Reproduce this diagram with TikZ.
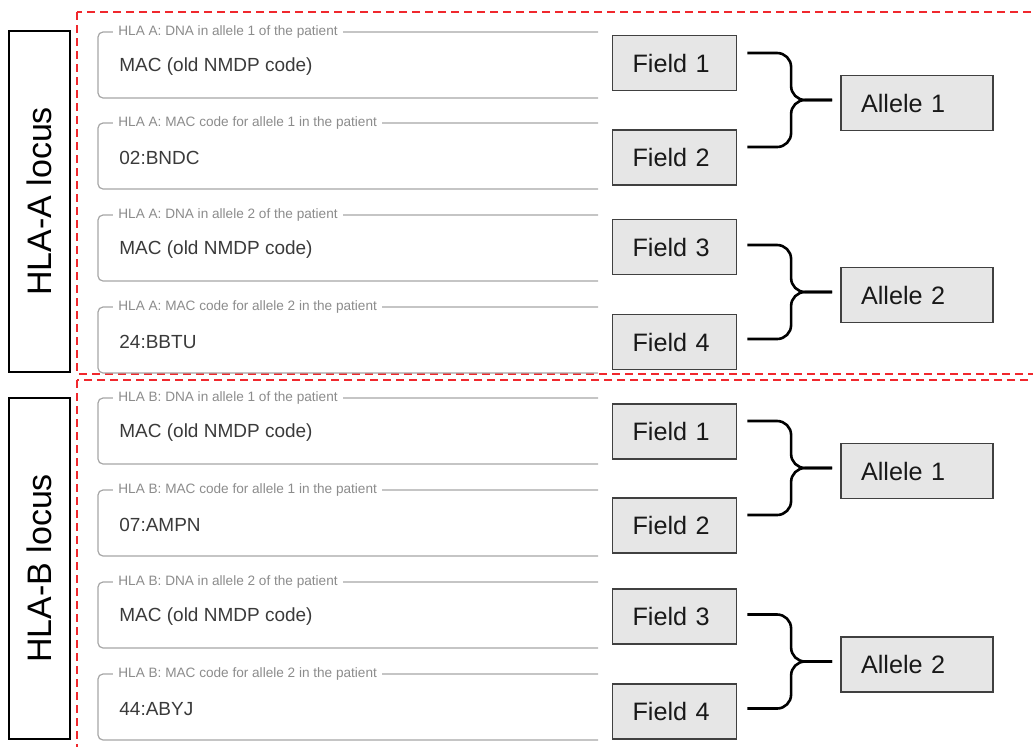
\documentclass[tikz,border=0pt]{standalone}
\usepackage{fontspec}
\setmainfont{Liberation Sans}
\usetikzlibrary{calc}

\definecolor{boxgray}{HTML}{E6E6E6}
\definecolor{boxline}{HTML}{404040}
\definecolor{formline}{HTML}{A6A6A6}
\definecolor{formgray}{HTML}{8C8C8C}
\definecolor{formtext}{HTML}{3A3A3A}
\definecolor{locusred}{HTML}{F0282D}

\begin{document}
\begin{tikzpicture}[x=0.5pt, y=-0.5pt,
	locus/.style={draw, line width=0.7pt, rotate=90, minimum width=170.5pt, minimum height=30.5pt, inner sep=0pt, font=\fontsize{17}{20}\selectfont},
	locusframe/.style={draw=locusred, line width=0.8pt, dash pattern=on 4pt off 2.5pt},
	formbox/.style={draw=formline, line width=0.6pt, rounded corners=2.5pt},
	formlabel/.style={fill=white, text=formgray, inner xsep=2.5pt, inner ysep=1pt, anchor=west, font=\fontsize{6.8}{8}\selectfont},
	formvalue/.style={text=formtext, inner sep=0pt, anchor=west, font=\fontsize{9.5}{11}\selectfont},
	fieldbox/.style={draw=boxline, fill=boxgray, line width=0.9pt, text=black!90, inner xsep=10pt, text width=42pt, align=left, minimum height=27.5pt, font=\fontsize{12.6}{15}\selectfont},
	allelebox/.style={fieldbox, text width=56pt},
	brace/.style={draw, line width=1.3pt, rounded corners=7pt}
]
	\useasboundingbox (0,0) rectangle (1033,746);
	\clip (0,0) rectangle (1033,746);

	% Loci
	\node[locus] (la) at (39.5,201.5) {HLA-A locus};
	\node[locus] (lb) at (39.5,568.5) {HLA-B locus};
	\draw[locusframe] (77,12) rectangle (1050,374);
	\draw[locusframe] (77,380) rectangle (1050,760);

	% Form fields
	\foreach \t/\lab/\val [count=\i] in {
		32/{HLA A: DNA in allele 1 of the patient}/{MAC (old NMDP code)},
		123/{HLA A: MAC code for allele 1 in the patient}/{02:BNDC},
		215/{HLA A: DNA in allele 2 of the patient}/{MAC (old NMDP code)},
		307/{HLA A: MAC code for allele 2 in the patient}/{24:BBTU},
		398/{HLA B: DNA in allele 1 of the patient}/{MAC (old NMDP code)},
		490/{HLA B: MAC code for allele 1 in the patient}/{07:AMPN},
		582/{HLA B: DNA in allele 2 of the patient}/{MAC (old NMDP code)},
		674/{HLA B: MAC code for allele 2 in the patient}/{44:ABYJ}} {
		\draw[formbox] (598,\t) -- (98,\t) -- (98,\t+66) -- (598,\t+66);
		\node[formlabel] (lab\i) at (113,\t) {\lab};
		\node[formvalue] (val\i) at (119,\t+35) {\val};
	}

	% Fields and alleles
	\node[fieldbox] (fa1) at (674.5,63) {Field 1};
	\node[fieldbox] (fa2) at (674.5,157.5) {Field 2};
	\node[fieldbox] (fa3) at (674.5,247) {Field 3};
	\node[fieldbox] (fa4) at (674.5,342) {Field 4};
	\node[fieldbox] (fb1) at (674.5,431.5) {Field 1};
	\node[fieldbox] (fb2) at (674.5,525.5) {Field 2};
	\node[fieldbox] (fb3) at (674.5,616.5) {Field 3};
	\node[fieldbox] (fb4) at (674.5,711.5) {Field 4};

	\node[allelebox] (aa1) at (917,103) {Allele 1};
	\node[allelebox] (aa2) at (917,295) {Allele 2};
	\node[allelebox] (ab1) at (917,471) {Allele 1};
	\node[allelebox] (ab2) at (917,664.5) {Allele 2};

	% Braces
	\foreach \up/\down/\al in {fa1/fa2/aa1, fa3/fa4/aa2, fb1/fb2/ab1, fb3/fb4/ab2} {
		\draw[brace] ($(\up.east |- \al.west)+(10,-50)$) -| ($(\al.west)+(-49,-3)$) -- ($(\al.west)+(-8,-3)$);
		\draw[brace] ($(\down.east |- \al.west)+(10,44)$) -| ($(\al.west)+(-49,-3)$) -- ($(\al.west)+(-8,-3)$);
	}

\end{tikzpicture}
\end{document}
